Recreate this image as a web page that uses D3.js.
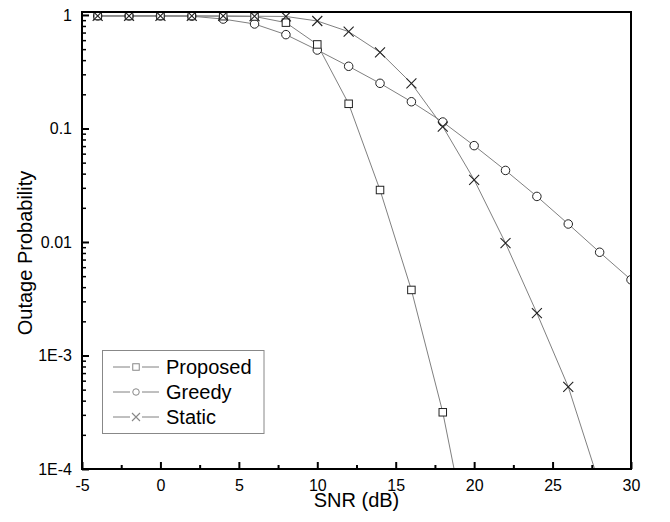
<!DOCTYPE html>
<html><head><meta charset="utf-8">
<script src="https://cdn.jsdelivr.net/npm/d3@7"></script>
<style>body{margin:0;background:#fff;}svg{display:block;font-family:"Liberation Sans",Arial,sans-serif;}</style>
</head><body>
<svg id="c" width="670" height="522"></svg>
<script>
const snr = [-4,-2,0,2,4,6,8,10,12,14,16,18,20,22,24,26,28,30];
const proposed = [0.98,0.98,0.98,0.98,0.975,0.97,0.856,0.55,0.165,0.0287,0.00378,0.000316,0.000013];
const greedy = [0.98,0.98,0.98,0.975,0.92,0.833,0.671,0.491,0.353,0.250,0.172,0.114,0.0706,0.0427,0.0252,0.0144,0.00812,0.00465];
const staticS = [0.98,0.98,0.98,0.98,0.98,0.975,0.97,0.885,0.713,0.469,0.250,0.104,0.0353,0.00978,0.00236,0.00053,0.000073];
const xTicks = [-5,0,5,10,15,20,25,30];
const yTicks = [1,0.1,0.01,0.001,0.0001];
const yTickLabels = ["1","0.1","0.01","1E-3","1E-4"];
const seriesNames = ["Proposed","Greedy","Static"];

const svg = d3.select("#c");
const L=82, R=631, T=12, B=469;
const x = d3.scaleLinear().domain([-5,30]).range([L,R]);
const y = d3.scaleLog().domain([1e-4,1.062]).range([B,T]);

const series = [
  {name:seriesNames[0], vals:proposed, shape:"square"},
  {name:seriesNames[1], vals:greedy, shape:"circle"},
  {name:seriesNames[2], vals:staticS, shape:"cross"}
];

svg.append("defs").append("clipPath").attr("id","clip")
  .append("rect").attr("x",L).attr("y",T).attr("width",R-L).attr("height",B-T);

const plot = svg.append("g").attr("clip-path","url(#clip)");
const line = d3.line().x(d=>x(d[0])).y(d=>y(d[1]));
series.forEach(s=>{
  const pts = s.vals.map((v,i)=>[snr[i],v]);
  plot.append("path").attr("d",line(pts)).attr("fill","none").attr("stroke","#808080").attr("stroke-width",1);
});
function drawMarker(g, shape, cx, cy, sz, color){
  if(shape==="square"){
    g.append("rect").attr("x",cx-sz/2).attr("y",cy-sz/2).attr("width",sz).attr("height",sz)
      .attr("fill","#fff").attr("stroke",color).attr("stroke-width",1);
  } else if(shape==="circle"){
    g.append("circle").attr("cx",cx).attr("cy",cy).attr("r",sz/2)
      .attr("fill","#fff").attr("stroke",color).attr("stroke-width",1);
  } else {
    const h=sz/2;
    g.append("path").attr("d",`M${cx-h},${cy-h}L${cx+h},${cy+h}M${cx-h},${cy+h}L${cx+h},${cy-h}`)
      .attr("stroke",color).attr("stroke-width",1.1).attr("fill","none");
  }
}
const order=[1,0,2];
order.forEach(k=>{
  const s=series[k];
  s.vals.forEach((v,i)=>{
    const px=x(snr[i]), py=y(v);
    if(py>B+5) return;
    drawMarker(plot, s.shape, px, py, s.shape==="cross"?10:(s.shape==="circle"?8.5:7.5), "#222");
  });
});

// frame
svg.append("rect").attr("x",L).attr("y",T).attr("width",R-L).attr("height",B-T)
  .attr("fill","none").attr("stroke","#000").attr("stroke-width",2);

// x axis
const xAxis = d3.axisBottom(x).tickValues(xTicks).tickSize(-7).tickPadding(11)
  .tickFormat(d=>String(d));
const gx = svg.append("g").attr("transform",`translate(0,${B})`).call(xAxis);
gx.select(".domain").remove();
gx.selectAll(".tick line").attr("stroke-width",2);
gx.selectAll(".tick text").attr("font-size",16).attr("fill","#000").attr("font-family","Liberation Sans, Arial, sans-serif");
const xMinor = d3.range(-2.5,30,5);
const gxm = svg.append("g").attr("transform",`translate(0,${B})`).call(d3.axisBottom(x).tickValues(xMinor).tickSize(-4).tickFormat(""));
gxm.select(".domain").remove();
gxm.selectAll(".tick line").attr("stroke-width",2);

// y axis
const yAxis = d3.axisLeft(y).tickValues(yTicks).tickSize(-7).tickPadding(10).tickFormat((d,i)=>yTickLabels[i]);
const gy = svg.append("g").attr("transform",`translate(${L},0)`).call(yAxis);
gy.select(".domain").remove();
gy.selectAll(".tick line").attr("stroke-width",2);
gy.selectAll(".tick text").attr("font-size",16).attr("fill","#000").attr("font-family","Liberation Sans, Arial, sans-serif");
const yMinor=[];
[1e-4,1e-3,1e-2,1e-1].forEach(d=>{for(let m=2;m<=9;m++) yMinor.push(d*m);});
const gym = svg.append("g").attr("transform",`translate(${L},0)`).call(d3.axisLeft(y).tickValues(yMinor).tickSize(-4).tickFormat(""));
gym.select(".domain").remove();
gym.selectAll(".tick line").attr("stroke-width",1.5);

// titles
svg.append("text").attr("x",(L+R)/2).attr("y",507).attr("text-anchor","middle")
  .attr("font-size",20).text("SNR (dB)");
svg.append("text").attr("transform",`translate(32,253) rotate(-90)`).attr("text-anchor","middle")
  .attr("font-size",20).text("Outage Probability");

// legend
const lg = svg.append("g");
lg.append("rect").attr("x",102.5).attr("y",350.5).attr("width",161.5).attr("height",83)
  .attr("fill","#fff").attr("stroke","#888").attr("stroke-width",1);
series.forEach((s,i)=>{
  const yy = 367 + i*25;
  lg.append("line").attr("x1",113).attr("x2",130).attr("y1",yy).attr("y2",yy).attr("stroke","#808080");
  lg.append("line").attr("x1",142).attr("x2",159).attr("y1",yy).attr("y2",yy).attr("stroke","#808080");
  drawMarker(lg, s.shape, 136, yy, s.shape==="cross"?8:6.5, "#888");
  lg.append("text").attr("x",166).attr("y",yy+7).attr("font-size",20).text(s.name);
});
</script>
</body></html>
